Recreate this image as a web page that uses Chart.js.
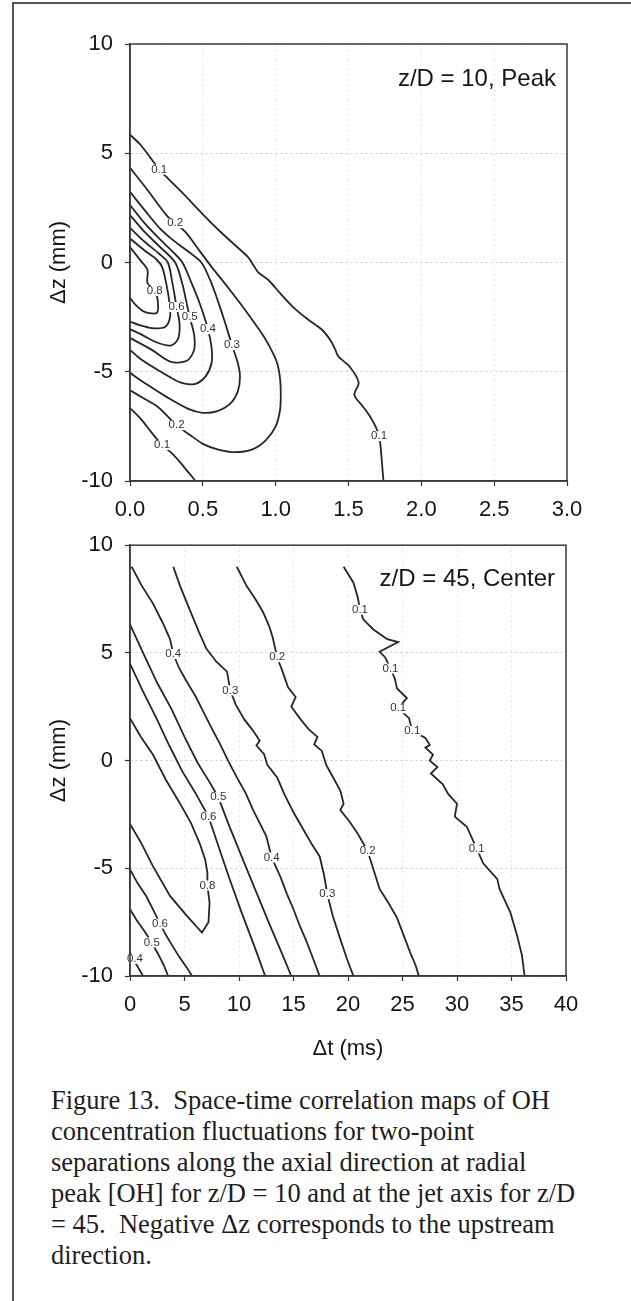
<!DOCTYPE html>
<html>
<head>
<meta charset="utf-8">
<script src="https://cdn.jsdelivr.net/npm/chart.js@4.4.1/dist/chart.umd.min.js"></script>
<style>
    html, body { margin: 0; padding: 0; background: #fff; }
    body { width: 631px; height: 1301px; position: relative; overflow: hidden; }
    .frame-left { position: absolute; left: 12px; top: 2px; width: 2px; height: 1299px; background: #555; }
    .frame-top { position: absolute; left: 12px; top: 2px; width: 619px; height: 2px; background: #555; }
    #peakChart { position: absolute; left: 0; top: 0; }
    #centerChart { position: absolute; left: 0; top: 520px; }
    .caption {
        position: absolute; left: 51px; top: 1085px;
        font-family: 'Liberation Serif', 'Times New Roman', serif;
        font-size: 26.5px; line-height: 31px; color: #1e1e1e; white-space: pre;
    }
</style>
</head>
<body>
<div class="frame-left"></div>
<div class="frame-top"></div>
<canvas id="peakChart" width="631" height="525"></canvas>
<canvas id="centerChart" width="631" height="560"></canvas>
<div class="caption">Figure 13.  Space-time correlation maps of OH
concentration fluctuations for two-point
separations along the axial direction at radial
peak [OH] for z/D = 10 and at the jet axis for z/D
= 45.  Negative Δz corresponds to the upstream
direction.</div>

<script>
// Ejes
const zTicks = [-10, -5, 0, 5, 10];
const zTickLabels = ['-10', '-5', '0', '5', '10'];
const peakTimeTicks = [0, 0.5, 1, 1.5, 2, 2.5, 3];
const peakTimeLabels = ['0.0', '0.5', '1.0', '1.5', '2.0', '2.5', '3.0'];
const centerTimeTicks = [0, 5, 10, 15, 20, 25, 30, 35, 40];
const centerTimeLabels = ['0', '5', '10', '15', '20', '25', '30', '35', '40'];

// z/D = 10, Peak : contornos [dt (ms), dz (mm)]
const peak01 = [[0,5.85],[0.07,5.4],[0.14,4.8],[0.2,4.25],[0.26,3.85],[0.35,3.25],[0.43,2.7],[0.53,2.0],[0.63,1.35],[0.72,0.8],[0.81,0.25],[0.85,-0.15],[0.88,-0.45],[0.95,-0.8],[1.03,-1.4],[1.12,-2.04],[1.22,-2.6],[1.32,-3.09],[1.38,-3.6],[1.41,-4.0],[1.43,-4.3],[1.51,-4.78],[1.57,-5.5],[1.54,-6.06],[1.6,-6.6],[1.65,-7.07],[1.69,-7.57],[1.71,-7.95],[1.72,-8.4],[1.73,-9.2],[1.74,-10]];
const peak01Low = [[0,-6.66],[0.08,-7.2],[0.15,-7.8],[0.22,-8.35],[0.29,-8.75],[0.37,-9.35],[0.45,-10]];
const peak02 = [[0,4.33],[0.12,3.32],[0.25,2.17],[0.31,1.8],[0.38,1.4],[0.47,0.6],[0.56,-0.2],[0.67,-1.12],[0.76,-1.9],[0.84,-2.63],[0.91,-3.3],[0.97,-4.0],[1.01,-4.6],[1.03,-5.3],[1.035,-6.0],[1.03,-6.75],[1.0,-7.5],[0.93,-8.15],[0.84,-8.55],[0.72,-8.68],[0.6,-8.55],[0.5,-8.3],[0.43,-7.98],[0.32,-7.44],[0.19,-6.6],[0.09,-6.2],[0,-5.85]];
const peak03 = [[0,3.23],[0.1,2.4],[0.2,1.6],[0.3,1.0],[0.4,0.5],[0.49,0],[0.55,-0.8],[0.6,-1.7],[0.65,-2.7],[0.7,-3.78],[0.74,-4.6],[0.755,-5.24],[0.74,-5.9],[0.69,-6.45],[0.6,-6.8],[0.5,-6.88],[0.4,-6.7],[0.25,-6.15],[0.12,-5.6],[0,-5.05]];
const peak04 = [[0,2.63],[0.1,1.8],[0.2,1.1],[0.3,0.45],[0.36,0],[0.42,-0.9],[0.48,-1.9],[0.535,-3.05],[0.56,-3.9],[0.56,-4.6],[0.52,-5.2],[0.45,-5.55],[0.35,-5.5],[0.2,-4.95],[0.08,-4.45],[0,-4.0]];
const peak05 = [[0,2.17],[0.1,1.4],[0.2,0.75],[0.31,0],[0.36,-1.0],[0.39,-1.9],[0.41,-2.5],[0.44,-3.3],[0.44,-4.0],[0.39,-4.5],[0.28,-4.55],[0.15,-4.0],[0,-3.45]];
const peak06 = [[0,1.58],[0.1,0.95],[0.2,0.4],[0.26,0],[0.29,-0.9],[0.32,-2.04],[0.34,-2.8],[0.33,-3.5],[0.28,-3.8],[0.18,-3.65],[0.08,-3.3],[0,-3.05]];
const peak07 = [[0,1.1],[0.1,0.55],[0.18,0.15],[0.22,-0.2],[0.25,-1.0],[0.27,-1.8],[0.275,-2.5],[0.24,-2.95],[0.15,-3.0],[0.06,-2.85],[0,-2.7]];
const peak08 = [[0,0.71],[0.07,0.11],[0.12,-0.34],[0.12,-0.94],[0.17,-1.3],[0.19,-1.72],[0.185,-2.3],[0.1,-2.26],[0.04,-1.95],[0,-1.62]];
const peakLabels = [[0.2,4.25,'0.1'],[0.31,1.8,'0.2'],[0.17,-1.3,'0.8'],[0.32,-2.04,'0.6'],[0.41,-2.5,'0.5'],[0.535,-3.05,'0.4'],[0.7,-3.78,'0.3'],[0.32,-7.44,'0.2'],[0.22,-8.35,'0.1'],[1.71,-7.95,'0.1']];

// z/D = 45, Center : contornos [dt (ms), dz (mm)]
const center01 = [[19.6,9.0],[20.5,8.26],[20.9,7.57],[21.1,7.0],[21.4,6.56],[22.3,6.1],[23.6,5.64],[24.6,5.5],[22.9,5.05],[23.4,4.8],[23.9,4.27],[24.3,3.8],[24.5,3.35],[25.4,2.9],[24.6,2.43],[25.6,1.97],[25.9,1.38],[27.1,1.05],[27.5,0.73],[27.1,0.6],[27.8,0.28],[27.5,0.0],[28.2,-0.3],[27.6,-0.6],[28.7,-1.1],[29.2,-1.56],[30.0,-2.0],[29.8,-2.6],[30.9,-3.07],[31.8,-4.08],[32.4,-4.77],[33.7,-5.5],[33.9,-5.96],[34.9,-7.06],[35.5,-8.1],[35.96,-9.04],[36.2,-10]];
const center02 = [[9.8,9.0],[10.7,8.1],[11.5,7.5],[12.2,6.9],[12.8,6.2],[13.1,5.7],[13.5,4.8],[14.0,4.13],[14.5,3.4],[15.2,2.95],[14.8,2.5],[15.6,1.95],[16.4,1.45],[17.2,1.1],[16.9,0.75],[17.6,0.45],[18.0,-0.2],[18.6,-0.75],[19.3,-1.4],[19.6,-2.0],[19.3,-2.3],[20.1,-2.8],[20.9,-3.4],[21.8,-4.2],[22.3,-5.0],[22.9,-5.96],[23.7,-6.6],[24.5,-7.3],[25.1,-8.1],[25.7,-8.9],[26.2,-9.5],[26.5,-10]];
const center03 = [[3.97,9.0],[4.6,8.1],[5.4,7.1],[6.3,6.0],[7.0,5.2],[7.9,4.6],[8.9,4.13],[9.2,3.26],[9.7,2.6],[10.5,1.9],[11.3,1.38],[11.9,0.92],[11.6,0.7],[12.3,0.3],[12.6,-0.2],[13.5,-0.78],[14.2,-1.6],[15.0,-2.4],[15.9,-3.2],[16.7,-3.9],[17.4,-4.45],[17.8,-5.3],[18.1,-6.2],[18.6,-7.2],[19.3,-8.3],[19.9,-9.2],[20.5,-10]];
const center04 = [[0.15,9.0],[1.1,8.1],[2.1,7.3],[3.0,6.4],[3.67,5.64],[3.97,4.95],[4.5,4.3],[5.2,3.67],[6.0,3.0],[6.7,2.3],[7.5,1.5],[8.3,0.73],[9.0,0],[9.8,-0.78],[10.6,-1.5],[11.3,-2.3],[11.9,-2.9],[12.5,-3.5],[13.0,-4.5],[13.8,-5.4],[14.4,-6.2],[15.0,-6.9],[15.6,-7.7],[16.2,-8.4],[16.8,-9.2],[17.4,-10]];
const center05 = [[0,6.33],[1.2,5.0],[2.5,3.6],[3.8,2.4],[5.0,1.1],[6.2,-0.1],[7.3,-1.0],[8.1,-1.7],[9.0,-2.9],[10.2,-4.4],[11.5,-6.0],[12.8,-7.6],[13.9,-8.9],[14.8,-10]];
const center06 = [[0,4.5],[1.2,3.2],[2.4,2.0],[3.6,0.7],[4.8,-0.5],[6.0,-1.5],[7.2,-2.6],[8.0,-3.8],[9.0,-5.3],[10.2,-7.0],[11.4,-8.6],[12.4,-10]];
const center08 = [[0,1.97],[1.0,1.1],[2.1,0.28],[3.3,-0.9],[4.6,-2.0],[5.6,-2.9],[6.4,-3.85],[6.9,-4.6],[7.1,-5.2],[7.1,-5.8],[7.3,-6.6],[7.2,-7.5],[6.6,-7.98],[5.2,-7.2],[3.67,-6.28],[2.1,-4.9],[1.0,-3.8],[0,-2.94]];
const center06Low = [[0,-5.05],[0.7,-5.7],[1.5,-6.3],[2.2,-7.0],[2.75,-7.57],[3.3,-8.1],[3.7,-8.44],[4.5,-9.1],[5.2,-9.6],[5.7,-10]];
const center05Low = [[0,-6.9],[0.6,-7.4],[1.3,-7.9],[2.0,-8.44],[2.6,-9.0],[3.1,-9.5],[3.5,-10]];
const center04Low = [[0,-8.9],[0.35,-9.25],[0.8,-9.65],[1.2,-10]];
const centerLabels = [[3.97,4.95,'0.4'],[9.2,3.26,'0.3'],[13.5,4.8,'0.2'],[21.1,7.0,'0.1'],[23.9,4.27,'0.1'],[24.6,2.43,'0.1'],[25.9,1.38,'0.1'],[8.1,-1.7,'0.5'],[7.2,-2.6,'0.6'],[13.0,-4.5,'0.4'],[18.1,-6.2,'0.3'],[21.8,-4.2,'0.2'],[31.8,-4.08,'0.1'],[7.1,-5.8,'0.8'],[2.75,-7.57,'0.6'],[2.0,-8.44,'0.5'],[0.45,-9.2,'0.4']];

Chart.defaults.font.family = "'Liberation Sans', Arial, sans-serif";
Chart.defaults.color = '#151515';

const lineColor = '#262626';

// Marco, etiquetas de contorno y texto de esquina
const contourDecor = {
    id: 'contourDecor',
    afterDatasetsDraw(chart, args, opts) {
        const { ctx, chartArea, scales } = chart;
        ctx.save();
        ctx.font = "11.5px 'Liberation Sans', Arial, sans-serif";
        ctx.textAlign = 'center';
        ctx.textBaseline = 'middle';
        opts.labels.forEach(([x, y, text]) => {
            const px = scales.x.getPixelForValue(x);
            const py = scales.y.getPixelForValue(y);
            const w = ctx.measureText(text).width + 2;
            ctx.fillStyle = '#fff';
            ctx.fillRect(px - w / 2, py - 5, w, 10);
            ctx.fillStyle = '#333';
            ctx.fillText(text, px, py);
        });
        // recuadro del área del gráfico
        ctx.strokeStyle = '#3a3a3a';
        ctx.lineWidth = 1.5;
        ctx.strokeRect(chartArea.left, chartArea.top, chartArea.right - chartArea.left, chartArea.bottom - chartArea.top);
        // texto de esquina
        ctx.font = "24px 'Liberation Sans', Arial, sans-serif";
        ctx.textAlign = 'right';
        ctx.fillStyle = '#151515';
        ctx.fillText(opts.corner, chartArea.right - 11, chartArea.top + opts.cornerY);
        ctx.restore();
    }
};

const toPoints = (arr) => arr.map(([x, y]) => ({ x, y }));

const makeDatasets = (lines, tension) => lines.map(line => ({
    data: toPoints(line),
    showLine: true,
    borderColor: lineColor,
    borderWidth: 1.8,
    pointRadius: 0,
    tension: tension,
}));

const axisX = (min, max, ticks, labels, height, title) => ({
    type: 'linear',
    min: min,
    max: max,
    afterBuildTicks: (s) => { s.ticks = ticks.map(v => ({ value: v })); },
    afterFit: (s) => { s.height = height; },
    ticks: {
        autoSkip: false,
        maxRotation: 0,
        padding: 11,
        font: { size: 22 },
        callback: (v, i) => labels[i],
    },
    grid: { color: 'rgba(0,0,0,0.10)', tickColor: '#333', tickLength: 5, tickWidth: 1.2, tickBorderDash: [] },
    border: { color: '#3a3a3a', width: 1.5, dash: [2, 3] },
    title: title ? { display: true, text: title, font: { size: 22 }, padding: { top: 0, bottom: 18 } } : { display: false },
});

const axisZ = () => ({
    type: 'linear',
    min: -10,
    max: 10,
    afterBuildTicks: (s) => { s.ticks = zTicks.map(v => ({ value: v })); },
    afterFit: (s) => { s.width = 130; },
    ticks: {
        autoSkip: false,
        padding: 12,
        font: { size: 22 },
        callback: (v, i) => zTickLabels[i],
    },
    grid: { color: 'rgba(0,0,0,0.2)', tickColor: '#333', tickLength: 5, tickWidth: 1.2, tickBorderDash: [] },
    border: { color: '#3a3a3a', width: 1.5, dash: [2, 3] },
    title: { display: true, text: 'Δz (mm)', font: { size: 22 }, padding: { top: 46, bottom: 0 } },
});

new Chart(document.getElementById('peakChart'), {
    type: 'scatter',
    data: {
        datasets: makeDatasets([peak01, peak01Low, peak02, peak03, peak04, peak05, peak06, peak07, peak08], 0.3),
    },
    options: {
        responsive: false,
        animation: false,
        layout: { padding: { left: 0, right: 64, top: 44, bottom: 0 } },
        plugins: {
            legend: { display: false },
            tooltip: { enabled: false },
            contourDecor: { labels: peakLabels, corner: 'z/D = 10, Peak', cornerY: 35 },
        },
        scales: {
            x: axisX(0, 3, peakTimeTicks, peakTimeLabels, 44, null),
            y: axisZ(),
        },
    },
    plugins: [contourDecor],
});

new Chart(document.getElementById('centerChart'), {
    type: 'scatter',
    data: {
        datasets: makeDatasets([center01, center02, center03, center04, center05, center06, center08, center06Low, center05Low, center04Low], 0),
    },
    options: {
        responsive: false,
        animation: false,
        layout: { padding: { left: 0, right: 65, top: 20, bottom: 0 } },
        plugins: {
            legend: { display: false },
            tooltip: { enabled: false },
            contourDecor: { labels: centerLabels, corner: 'z/D = 45, Center', cornerY: 34 },
        },
        scales: {
            x: axisX(0, 40, centerTimeTicks, centerTimeLabels, 104, 'Δt (ms)'),
            y: axisZ(),
        },
    },
    plugins: [contourDecor],
});
</script>
</body>
</html>
